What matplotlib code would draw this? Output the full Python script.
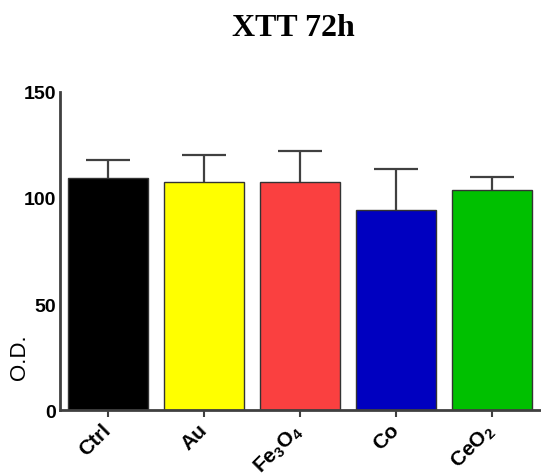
import matplotlib.pyplot as plt

plt.rcParams['font.family'] = ['Liberation Sans', 'DejaVu Sans']
plt.rcParams['mathtext.fontset'] = 'custom'
plt.rcParams['mathtext.rm'] = 'Liberation Sans:bold'
plt.rcParams['mathtext.bf'] = 'Liberation Sans:bold'

# data
groups = ['Ctrl', 'Au', r'Fe$_{3}$O$_{4}$', 'Co', r'CeO$_{2}$']
means = [109.5, 107.5, 107.5, 94.5, 103.8]
sd = [8.4, 12.9, 14.7, 19.0, 6.0]
colors = ['#000000', '#ffff00', '#fa4040', '#0000c0', '#00c000']

fig = plt.figure(figsize=(5.41, 4.77), dpi=100)
ax = fig.add_axes([60 / 541, 1 - 411 / 477, 480 / 541, 318 / 477])

x = list(range(len(groups)))
ax.bar(x, means, width=0.83, color=colors, edgecolor='#333333', linewidth=1.0, zorder=2)

# upper error bars only
eb = ax.errorbar(x, means, yerr=[[0] * len(sd), sd], fmt='none', ecolor='#404040',
                 elinewidth=1.6, capsize=16, capthick=1.6, zorder=3)
caps = eb[1]
caps[0].set_visible(False)

ax.set_xlim(-0.5, 4.5)
ax.set_ylim(0, 150)
ax.set_yticks([0, 50, 100, 150])
ax.set_yticklabels(['0', '50', '100', '150'], fontweight='bold', fontsize=14)
ax.set_xticks(x)
ax.set_xticklabels(groups, rotation=45, ha='right', va='center', rotation_mode='anchor',
                   fontweight='bold', fontsize=15)
ax.tick_params(axis='y', length=0, pad=3)
ax.tick_params(axis='x', length=5, width=1.5, color='#404040', pad=7)

for side in ['top', 'right']:
    ax.spines[side].set_visible(False)
for side in ['left', 'bottom']:
    ax.spines[side].set_color('#404040')
    ax.spines[side].set_linewidth(2)

ax.set_ylabel('O.D.', fontsize=16)
ax.yaxis.set_label_coords(-0.062, 0.17)

fig.text(293 / 541, 1 - 28 / 477, 'XTT 72h', family='Liberation Serif',
         fontweight='bold', fontsize=23, ha='center', va='center')

fig.savefig('out.png', dpi=100)
